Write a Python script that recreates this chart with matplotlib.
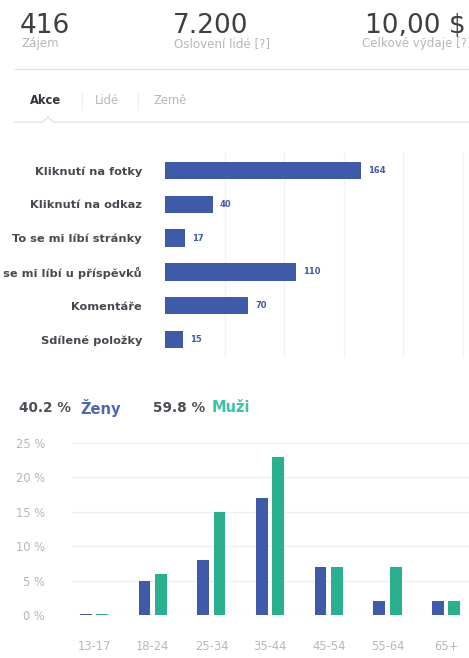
import matplotlib.pyplot as plt
import numpy as np

W, H = 469, 658

# header stats
stat_values = ["416", "7.200", "10,00 $"]
stat_labels = ["Zájem", "Oslovení lidé [?]", "Celkové výdaje [?]"]
tabs = ["Akce", "Lidé", "Země"]

# actions
actions = ["Kliknutí na fotky", "Kliknutí na odkaz", "To se mi líbí stránky",
           "To se mi líbí u příspěvků", "Komentáře", "Sdílené položky"]
action_counts = [164, 40, 17, 110, 70, 15]

# gender / age
share_women = "40.2 %"
share_men = "59.8 %"
age_groups = ["13-17", "18-24", "25-34", "35-44", "45-54", "55-64", "65+"]
women = [0.2, 5, 8, 17, 7, 2, 2]
men = [0.2, 6, 15, 23, 7, 7, 2]
pct_ticks = [0, 5, 10, 15, 20, 25]

BLUE = "#3f5aa8"
TEAL = "#2bb08f"
DARK = "#4b4f56"
GREY = "#a7abb1"


def fx(x):
    return x / W


def fy(y):
    return 1 - y / H


fig = plt.figure(figsize=(W / 100, H / 100), dpi=100)
fig.patch.set_facecolor("white")

# header numbers
stat_x = [20, 173, 466]
stat_ha = ["left", "left", "right"]
for v, lab, x, ha in zip(stat_values, stat_labels, stat_x, stat_ha):
    fig.text(fx(x), fy(33), v, fontsize=19, color="#3d3f43", ha=ha, va="baseline")
    fig.text(fx(x + (6 if ha == "right" else 1)), fy(44), lab, fontsize=8.6,
             color="#b4b7bc", ha=ha, va="center")

fig.add_artist(plt.Line2D([fx(15), fx(469)], [fy(69), fy(69)], color="#e3e4e6", lw=1))

# tabs
tab_x = [30, 95, 153]
for i, (t, x) in enumerate(zip(tabs, tab_x)):
    fig.text(fx(x), fy(101), t, fontsize=8.3, ha="left", va="center",
             color="#30333a" if i == 0 else "#b5b8bd",
             fontweight="bold" if i == 0 else "normal")
for x in [82, 138]:
    fig.add_artist(plt.Line2D([fx(x), fx(x)], [fy(93), fy(109)], color="#eceded", lw=0.8))
lx = [15, 43, 48, 53, 469]
ly = [122, 122, 117, 122, 122]
fig.add_artist(plt.Line2D([fx(v) for v in lx], [fy(v) for v in ly], color="#e3e4e6", lw=1))

# actions bar chart
ax1 = fig.add_axes([fx(165), fy(358), fx(469) - fx(165), fy(152) - fy(358)])
ypos = np.arange(len(actions))
ax1.barh(ypos, action_counts, height=0.52, color=BLUE)
for y, v in zip(ypos, action_counts):
    ax1.text(v + 6, y, str(v), fontsize=6, color=BLUE, va="center", ha="left",
             fontweight="bold")
ax1.set_xlim(0, 255)
ax1.set_ylim(5.55, -0.55)
ax1.set_xticks([50, 100, 150, 200, 250])
ax1.set_xticklabels([])
ax1.grid(axis="x", color="#f3f3f4", lw=1)
ax1.set_axisbelow(True)
ax1.set_yticks(ypos)
ax1.set_yticklabels(actions, fontsize=8.2, color="#454950", fontweight="bold")
ax1.tick_params(length=0, pad=16.5)
for s in ax1.spines.values():
    s.set_visible(False)

# gender shares
fig.text(fx(19), fy(408), share_women, fontsize=9.8, color=DARK, fontweight="bold", va="center")
fig.text(fx(80), fy(408), "Ženy", fontsize=10.5, color="#4d69b3", fontweight="bold", va="center")
fig.text(fx(153), fy(408), share_men, fontsize=9.8, color=DARK, fontweight="bold", va="center")
fig.text(fx(212), fy(408), "Muži", fontsize=10.5, color="#3cc2a4", fontweight="bold", va="center")

# age chart
ax2 = fig.add_axes([fx(72), fy(615), fx(469) - fx(72), fy(443) - fy(615)])
xpos = np.arange(len(age_groups))
bw = 0.2
ax2.bar(xpos - 0.14, women, width=bw, color=BLUE)
ax2.bar(xpos + 0.14, men, width=bw, color=TEAL)
ax2.set_xlim(-0.375, 6.39)
ax2.set_ylim(0, 25)
ax2.set_yticks(pct_ticks)
ax2.set_yticklabels([f"{t} %" for t in pct_ticks], fontsize=8.3, color="#b4b7bc")
ax2.set_xticks(xpos)
ax2.set_xticklabels(age_groups, fontsize=8.3, color="#b4b7bc")
ax2.grid(axis="y", color="#efeff0", lw=0.9)
ax2.set_axisbelow(True)
ax2.tick_params(axis="y", length=0, pad=19.5)
ax2.tick_params(axis="x", length=0, pad=18)
for s in ax2.spines.values():
    s.set_visible(False)
ax2.patch.set_alpha(0)

fig.savefig("out.png", dpi=100)
